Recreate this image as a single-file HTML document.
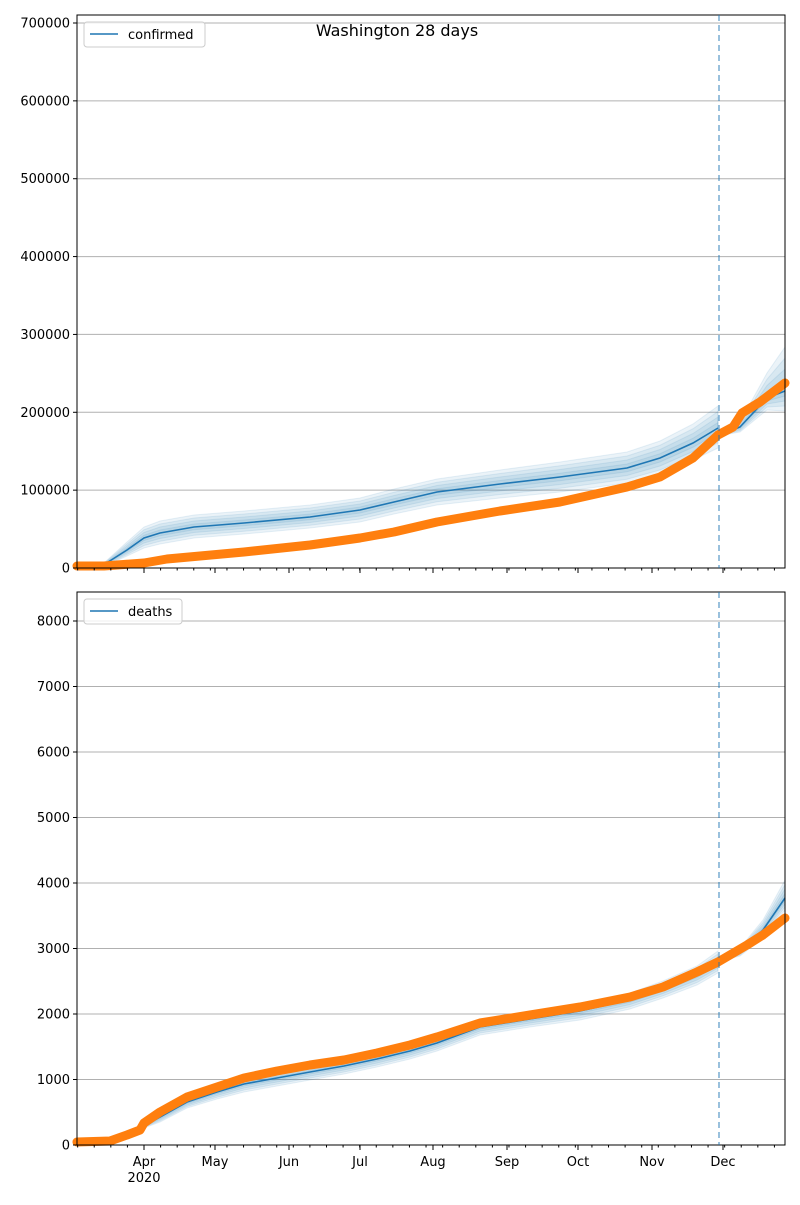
<!DOCTYPE html>
<html><head><meta charset="utf-8"><style>
body{margin:0;background:#fff}
svg text{font-family:"DejaVu Sans","Liberation Sans",sans-serif;font-size:13px;fill:#000}
</style></head><body>
<svg id="s" width="800" height="1200" xmlns="http://www.w3.org/2000/svg">
<rect width="800" height="1200" fill="#fff"/>
<g id="grid"></g>
<g id="bands"></g>
<g id="lines"></g>
<g id="frame"></g>
</svg>
<script>
const NS="http://www.w3.org/2000/svg";
function el(p,t,a,txt){const e=document.createElementNS(NS,t);for(const k in a)e.setAttribute(k,a[k]);if(txt!==undefined)e.textContent=txt;document.getElementById(p).appendChild(e);return e;}
const L=77,R=785;
const axes=[{t:15,b:568,max:700000,step:100000,z:568,u:(568-23)/7e5},{t:592,b:1145,max:8000,step:1000,z:1145,u:(1145-621)/8000}];
axes.forEach(a=>{
 for(let v=0;v<=a.max;v+=a.step){const y=a.z-v*a.u;
  if(v>0)el("grid","line",{x1:L,x2:R,y1:y,y2:y,stroke:"#b0b0b0","stroke-width":1});
  el("frame","line",{x1:L-4,x2:L,y1:y,y2:y,stroke:"#000"});
  el("frame","text",{x:L-7,y:y+4.5,"text-anchor":"end"},String(v));}
 el("frame","rect",{x:L,y:a.t,width:R-L,height:a.b-a.t,fill:"none",stroke:"#000","stroke-width":1});
 el("frame","line",{x1:719,x2:719,y1:a.t,y2:a.b,stroke:"#1f77b4","stroke-opacity":0.6,"stroke-width":1.5,"stroke-dasharray":"6,4"});
 const mon=[[144,"Apr"],[215,"May"],[289,"Jun"],[360,"Jul"],[433,"Aug"],[507,"Sep"],[578,"Oct"],[652,"Nov"],[723,"Dec"]];
 mon.forEach(m=>el("frame","line",{x1:m[0],x2:m[0],y1:a.b,y2:a.b+5,stroke:"#000"}));
 for(let x=144-7*2.37*9;x<R;x+=7*2.37){if(x>L)el("frame","line",{x1:x,x2:x,y1:a.b,y2:a.b+2.5,stroke:"#000"});}
 if(a.t>500){mon.forEach(m=>el("frame","text",{x:m[0],y:a.b+21,"text-anchor":"middle"},m[1]));
  el("frame","text",{x:144,y:a.b+37,"text-anchor":"middle"},"2020");}
});
function path(pts){return "M"+pts.map(p=>p[0]+","+p[1]).join("L");}
function bands(pts){for(let k=4;k>=1;k--){const f=k/4;
 const up=pts.map(p=>[p[0],p[1]-p[2]*f]),lo=pts.map(p=>[p[0],p[1]+p[3]*f]).reverse();
 el("bands","path",{d:path(up.concat(lo))+"Z",fill:"#1f77b4","fill-opacity":0.09,stroke:"#1f77b4","stroke-opacity":0.1});}}
function orange(pts){el("lines","path",{d:path(pts),fill:"none",stroke:"#ff7f0e","stroke-width":9,"stroke-linecap":"round","stroke-linejoin":"round"});}
function blue(pts){el("lines","path",{d:path(pts),fill:"none",stroke:"#1f77b4","stroke-width":1.6});}
// top
const bt=[[77,565,0,0],[105,564,2,2],[127,550,8,6],[144,538,11,10],[160,533,12,11],[194,527,12,11],[244,523,12,11],[310,517,12,11],[360,510,12,12],[394,502,13,12],[437,492,13,13],[500,484,14,14],[560,477,15,15],[627,468,16,15],[660,458,17,16],[693,443,19,17],[718,428,22,20]];
const bf=[[718,436,0,0],[740,427,5,5],[767,398,25,12],[785,391,44,20]];
bands(bt);bands(bf);blue(bt);blue(bf);
orange([[77,566],[104,566],[144,563],[167,559],[244,552],[310,545],[360,538],[394,532],[437,522],[500,511],[560,502],[627,487],[660,477],[693,458],[718,435],[733,427],[742,413],[760,402],[785,383]]);
// bottom
const bb=[[144,1126,2,2],[160,1117,4,5],[187,1102,5,6],[217,1092,6,7],[244,1084,6,8],[277,1078,6,8],[310,1072,6,8],[344,1066,6,8],[377,1059,6,8],[410,1051,6,8],[437,1043,7,8],[480,1027,7,8],[530,1019,7,8],[580,1011,7,9],[630,1000,7,9],[663,989,8,9],[697,975,9,10],[718,963,12,10]];
const bbf=[[718,962,0,0],[740,952,4,4],[763,930,10,8],[785,898,18,12]];
bands(bb);bands(bbf);blue(bb);blue(bbf);
orange([[77,1142],[110,1141],[127,1135],[140,1130],[144,1123],[160,1112],[187,1097],[217,1087],[244,1078],[277,1071],[310,1065],[344,1060],[377,1053],[410,1045],[437,1037],[480,1023],[530,1015],[580,1007],[630,997],[663,987],[697,972],[718,962],[747,945],[763,935],[785,918]]);
// legends
[[84,22,"confirmed",205],[84,599,"deaths",182]].forEach(l=>{
 el("frame","rect",{x:l[0],y:l[1],width:l[3]-l[0],height:25,rx:3,fill:"#fff","fill-opacity":0.8,stroke:"#ccc"});
 el("frame","line",{x1:l[0]+6,x2:l[0]+34,y1:l[1]+12,y2:l[1]+12,stroke:"#1f77b4","stroke-width":1.6});
 el("frame","text",{x:l[0]+44,y:l[1]+17},l[2]);});
el("frame","text",{x:397,y:36,"text-anchor":"middle","style":"font-size:16px"},"Washington 28 days");
</script>
</body></html>
